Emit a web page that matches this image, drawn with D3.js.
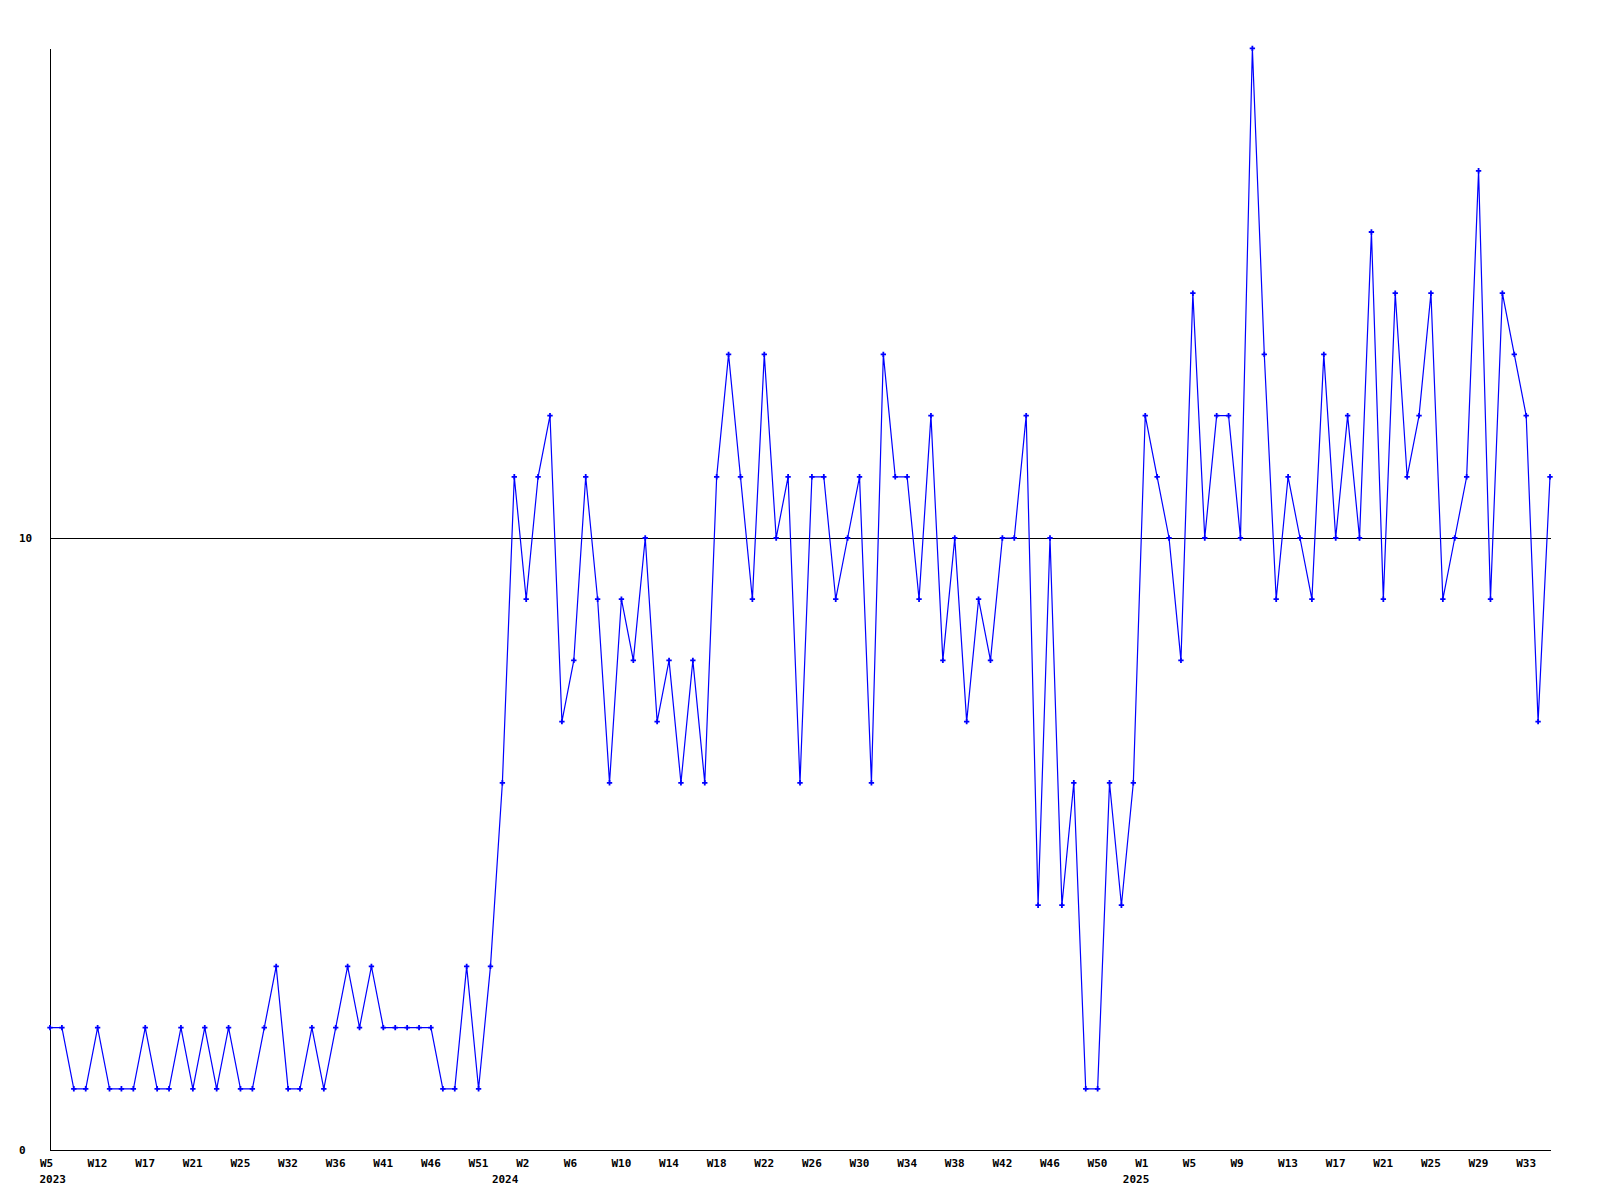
<!DOCTYPE html>
<html>
<head>
<meta charset="utf-8">
<script src="https://cdn.jsdelivr.net/npm/d3@7"></script>
<style>
  html, body { margin: 0; padding: 0; background: #ffffff; }
  svg { display: block; }
  text { font-family: "DejaVu Sans Mono", "Liberation Mono", monospace; font-weight: bold; font-size: 11px; fill: #000; }
</style>
</head>
<body>
<svg id="chart" width="1600" height="1200"></svg>
<script>
// Weekly values, one per data point (W5 2023 ... W35 2025)
const values = [
  2, 2, 1, 1, 2, 1, 1, 1, 2, 1,
  1, 2, 1, 2, 1, 2, 1, 1, 2, 3,
  1, 1, 2, 1, 2, 3, 2, 3, 2, 2,
  2, 2, 2, 1, 1, 3, 1, 3, 6, 11,
  9, 11, 12, 7, 8, 11, 9, 6, 9, 8,
  10, 7, 8, 6, 8, 6, 11, 13, 11, 9,
  13, 10, 11, 6, 11, 11, 9, 10, 11, 6,
  13, 11, 11, 9, 12, 8, 10, 7, 9, 8,
  10, 10, 12, 4, 10, 4, 6, 1, 1, 6,
  4, 6, 12, 11, 10, 8, 14, 10, 12, 12,
  10, 18, 13, 9, 11, 10, 9, 13, 10, 12,
  10, 15, 9, 14, 11, 12, 14, 9, 10, 11,
  16, 9, 14, 13, 12, 7, 11
];

// Tick labels, shown on every 4th data point
const tickLabels = [
  "W5", "W12", "W17", "W21", "W25", "W32", "W36", "W41", "W46", "W51",
  "W2", "W6", "W10", "W14", "W18", "W22", "W26", "W30", "W34", "W38", "W42", "W46", "W50",
  "W1", "W5", "W9", "W13", "W17", "W21", "W25", "W29", "W33"
];
const tickStep = 4;

// Year labels: data point index where each year starts, and the year
const yearStartIndex = [0, 38, 91];
const yearNames = ["2023", "2024", "2025"];

const yTicks = [0, 10];
const yMax = 18;

const svg = d3.select("#chart");
const plotLeft = 50, plotRight = 1550, plotTop = 48.4, plotBottom = 1150;

const x = d3.scaleLinear().domain([0, values.length - 1]).range([plotLeft, plotRight]);
const y = d3.scaleLinear().domain([0, yMax]).range([plotBottom, plotTop]);

const tickIdx = tickLabels.map((_, i) => i * tickStep);

// X axis
const xAxis = d3.axisBottom(x)
  .tickValues(tickIdx)
  .tickSize(0)
  .tickSizeOuter(0)
  .tickFormat((d) => tickLabels[d / tickStep]);

const gx = svg.append("g")
  .attr("transform", `translate(0,${plotBottom})`)
  .call(xAxis);
gx.attr("font-family", null).attr("font-size", null);
gx.select(".domain").attr("stroke", "#000").attr("shape-rendering", "crispEdges")
  .attr("d", `M${plotLeft},0.5H${plotRight + 0.5}`);
gx.selectAll(".tick text")
  .attr("text-anchor", "start")
  .attr("dx", -10.5)
  .attr("y", 17)
  .attr("dy", 0);

// Year labels
gx.selectAll(".year")
  .data(yearStartIndex)
  .join("text")
  .attr("class", "year")
  .attr("x", (d) => x(d) - 10.5)
  .attr("y", 33)
  .attr("text-anchor", "start")
  .text((d, i) => yearNames[i]);

// Y axis
const yAxis = d3.axisLeft(y)
  .tickValues(yTicks)
  .tickSize(0)
  .tickSizeOuter(0)
  .tickFormat(d3.format("d"));
const gy = svg.append("g")
  .attr("transform", `translate(${plotLeft},0)`)
  .call(yAxis);
gy.attr("font-family", null).attr("font-size", null);
gy.select(".domain").attr("stroke", "#000").attr("shape-rendering", "crispEdges")
  .attr("d", `M0.5,${plotBottom + 0.5}V${plotTop + 1}`);
gy.selectAll(".tick text")
  .attr("text-anchor", "start")
  .attr("x", -31)
  .attr("dy", "0.35em");

// Horizontal reference line at 10
svg.append("line")
  .attr("x1", plotLeft).attr("x2", plotRight + 1)
  .attr("y1", Math.round(y(10)) + 0.5).attr("y2", Math.round(y(10)) + 0.5)
  .attr("stroke", "#000").attr("stroke-width", 1)
  .attr("shape-rendering", "crispEdges");

// Data line
const line = d3.line()
  .x((d, i) => x(i))
  .y((d) => y(d));

svg.append("path")
  .datum(values)
  .attr("fill", "none")
  .attr("stroke", "#0000ff")
  .attr("stroke-width", 1.2)
  .attr("d", line);

// Markers
const sym = d3.symbol().type(d3.symbolCross).size(16);
svg.append("g")
  .selectAll("path")
  .data(values)
  .join("path")
  .attr("transform", (d, i) => `translate(${x(i)},${y(d)})`)
  .attr("d", sym)
  .attr("fill", "#0000ff");
</script>
</body>
</html>
